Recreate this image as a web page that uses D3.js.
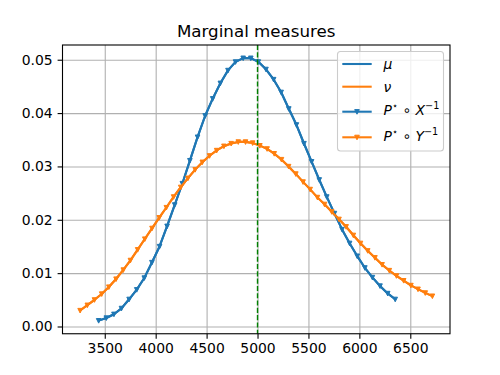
<!DOCTYPE html>
<html>
<head>
<meta charset="utf-8">
<script src="https://cdn.jsdelivr.net/npm/d3@7"></script>
<style>
  body { margin: 0; background: #fff; }
  text { font-family: "DejaVu Sans", sans-serif; }
</style>
</head>
<body>
<div id="chart"></div>
<script>
// support points and masses
const muX = [3440, 3515, 3590, 3664, 3739, 3814, 3888, 3963, 4038, 4112,
             4187, 4262, 4336, 4411, 4486, 4560, 4635, 4710, 4784, 4859,
             4934, 5008, 5083, 5158, 5232, 5307, 5382, 5456, 5531, 5606,
             5680, 5755, 5830, 5904, 5979, 6054, 6128, 6203, 6278, 6352];
const muY = [0.0011, 0.0016, 0.0023, 0.0034, 0.0051, 0.0069, 0.0091, 0.0120, 0.0150, 0.0188,
             0.0228, 0.0268, 0.0311, 0.0355, 0.0395, 0.0427, 0.0456, 0.0480, 0.0496, 0.0503,
             0.0503, 0.0496, 0.0482, 0.0463, 0.0439, 0.0408, 0.0378, 0.0343, 0.0309, 0.0275,
             0.0243, 0.0212, 0.0182, 0.0156, 0.0132, 0.0110, 0.0092, 0.0076, 0.0062, 0.0051];

const nuX = [3258, 3329, 3399, 3470, 3540, 3611, 3682, 3752, 3823, 3893,
             3964, 4035, 4105, 4176, 4246, 4317, 4388, 4458, 4529, 4599,
             4670, 4741, 4811, 4882, 4952, 5023, 5094, 5164, 5235, 5305,
             5376, 5447, 5517, 5588, 5658, 5729, 5800, 5870, 5941, 6011,
             6082, 6153, 6223, 6294, 6364, 6435, 6506, 6576, 6647, 6717];
const nuY = [0.0030, 0.0040, 0.0050, 0.0061, 0.0074, 0.0089, 0.0106, 0.0124, 0.0144, 0.0164,
             0.0184, 0.0204, 0.0223, 0.0243, 0.0261, 0.0278, 0.0294, 0.0308, 0.0320, 0.0330,
             0.0338, 0.0343, 0.0346, 0.0346, 0.0344, 0.0339, 0.0333, 0.0324, 0.0313, 0.0300,
             0.0286, 0.0271, 0.0257, 0.0242, 0.0229, 0.0215, 0.0201, 0.0187, 0.0171, 0.0156,
             0.0142, 0.0129, 0.0116, 0.0105, 0.0095, 0.0086, 0.0077, 0.0070, 0.0063, 0.0057];

const xTicks = [3500, 4000, 4500, 5000, 5500, 6000, 6500];
const yTicks = [0.00, 0.01, 0.02, 0.03, 0.04, 0.05];
const vlineX = 5000;
const title = "Marginal measures";

const blue = "#1f77b4", orange = "#ff7f0e";
const W = 500, H = 375;
const margin = { top: 45, right: 50, bottom: 41.25, left: 62.5 };
const width = W - margin.left - margin.right;
const height = H - margin.top - margin.bottom;

const svg = d3.select("#chart").append("svg")
    .attr("width", W)
    .attr("height", H);

// matplotlib-like 5% padding around data
const allX = muX.concat(nuX), allY = muY.concat(nuY);
const [x0, x1] = d3.extent(allX), [y0, y1] = d3.extent(allY);
const px = (x1 - x0) * 0.05, py = (y1 - y0) * 0.05;

const x = d3.scaleLinear().domain([x0 - px, x1 + px]).range([0, width]);
const y = d3.scaleLinear().domain([y0 - py, y1 + py]).range([height, 0]);

const g = svg.append("g").attr("transform", `translate(${margin.left},${margin.top})`);

// grid
g.append("g")
    .attr("transform", `translate(0,${height})`)
    .call(d3.axisBottom(x).tickValues(xTicks).tickSize(-height).tickFormat(""))
    .call(a => a.select(".domain").remove())
    .selectAll("line").attr("stroke", "#b0b0b0").attr("stroke-width", 1.1);
g.append("g")
    .call(d3.axisLeft(y).tickValues(yTicks).tickSize(-width).tickFormat(""))
    .call(a => a.select(".domain").remove())
    .selectAll("line").attr("stroke", "#b0b0b0").attr("stroke-width", 1.1);

const line = d3.line().x(d => x(d[0])).y(d => y(d[1])).curve(d3.curveLinear);
const mu = d3.zip(muX, muY), nu = d3.zip(nuX, nuY);

const tri = "M-2.3,-2.1L2.3,-2.1L0,2.5Z";

function drawSeries(data, color, withMarkers) {
  g.append("path")
      .attr("d", line(data))
      .attr("fill", "none")
      .attr("stroke", color)
      .attr("stroke-width", 2.08)
      .attr("stroke-linejoin", "round");
  if (withMarkers) {
    g.append("g").selectAll("path")
        .data(data)
        .join("path")
        .attr("d", tri)
        .attr("transform", d => `translate(${x(d[0])},${y(d[1])})`)
        .attr("fill", color)
        .attr("stroke", color)
        .attr("stroke-width", 1)
        .attr("stroke-linejoin", "round");
  }
}

drawSeries(mu, blue, false);
drawSeries(nu, orange, false);
drawSeries(mu, blue, true);
drawSeries(nu, orange, true);

// vertical dashed line
g.append("line")
    .attr("x1", x(vlineX)).attr("x2", x(vlineX))
    .attr("y1", 0).attr("y2", height)
    .attr("stroke", "#008000")
    .attr("stroke-width", 1.4)
    .attr("stroke-dasharray", "5.1,2.2");

// axes
const xAxis = g.append("g")
    .attr("transform", `translate(0,${height})`)
    .call(d3.axisBottom(x).tickValues(xTicks).tickSize(4.9).tickPadding(4.9).tickFormat(d3.format("d")));
const yAxis = g.append("g")
    .call(d3.axisLeft(y).tickValues(yTicks).tickSize(4.9).tickPadding(4.9).tickFormat(d3.format(".2f")));
[xAxis, yAxis].forEach(a => {
  a.select(".domain").remove();
  a.selectAll("line").attr("stroke", "#000").attr("stroke-width", 1.1);
  a.selectAll("text")
      .attr("fill", "#000")
      .style("font-size", "13.9px")
      .style("font-family", "DejaVu Sans, sans-serif");
});

// spines
g.append("rect")
    .attr("width", width).attr("height", height)
    .attr("fill", "none")
    .attr("stroke", "#000")
    .attr("stroke-width", 1.1);

// title
svg.append("text")
    .attr("x", margin.left + width / 2)
    .attr("y", 36.5)
    .attr("text-anchor", "middle")
    .style("font-size", "16.7px")
    .text(title);

// legend
const leg = svg.append("g");
leg.append("rect")
    .attr("x", 337.5).attr("y", 51.5)
    .attr("width", 106).attr("height", 99.5)
    .attr("rx", 3)
    .attr("fill", "#fff").attr("fill-opacity", 0.8)
    .attr("stroke", "#cccccc").attr("stroke-width", 1.1);

const legendItems = [
  { color: blue, marker: false, lineY: 64, baseY: 69, parts: [["μ", true, false]] },
  { color: orange, marker: false, lineY: 86.7, baseY: 91.5, parts: [["ν", true, false]] },
  { color: blue, marker: true, lineY: 111.7, baseY: 114.7,
    parts: [["P", true, false], ["⋆", false, true], [" ∘ ", false, false], ["X", true, false], ["−1", false, true]] },
  { color: orange, marker: true, lineY: 137.3, baseY: 140.7,
    parts: [["P", true, false], ["⋆", false, true], [" ∘ ", false, false], ["Y", true, false], ["−1", false, true]] }
];

legendItems.forEach(it => {
  leg.append("line")
      .attr("x1", 342.3).attr("x2", 371.7)
      .attr("y1", it.lineY).attr("y2", it.lineY)
      .attr("stroke", it.color).attr("stroke-width", 2.08);
  if (it.marker) {
    leg.append("path")
        .attr("d", tri)
        .attr("transform", `translate(357,${it.lineY})`)
        .attr("fill", it.color).attr("stroke", it.color).attr("stroke-width", 1);
  }
  const t = leg.append("text")
      .attr("x", 383.5).attr("y", it.baseY)
      .style("font-size", "13.9px")
      .attr("xml:space", "preserve");
  let up = false;
  it.parts.forEach(([s, ital, sup]) => {
    const sp = t.append("tspan").text(s);
    if (ital) sp.style("font-style", "italic");
    if (sup && !up) { sp.attr("dy", -5.5).style("font-size", "9.7px"); up = true; }
    else if (sup) { sp.style("font-size", "9.7px"); }
    else if (up) { sp.attr("dy", 5.5); up = false; }
  });
});
</script>
</body>
</html>
